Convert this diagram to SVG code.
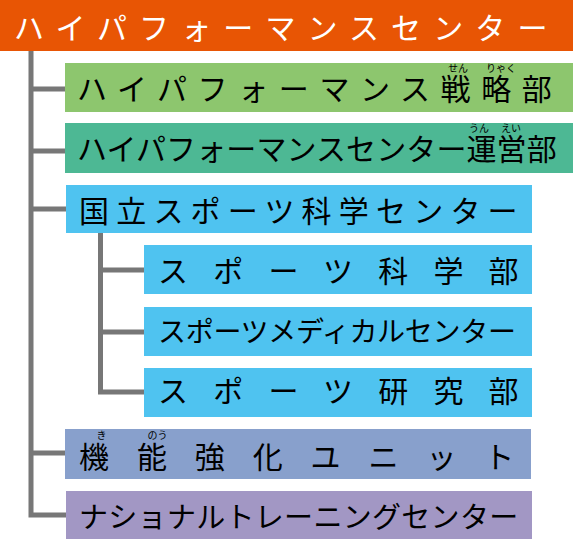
<svg xmlns="http://www.w3.org/2000/svg" width="575" height="546" viewBox="0 0 575 546">
  <style>
    text { font-family: "Noto Sans CJK JP", "Noto Sans", sans-serif; fill: #000; }
    .t30 { font-size: 30px; }
    .ruby { font-size: 10px; text-anchor: middle; }
    .title { fill: #fff; }
    .conn { fill: none; stroke: #777; stroke-width: 5; stroke-linejoin: miter; stroke-linecap: butt; }
  </style>
  <rect width="575" height="546" fill="#fff"/>

  <g id="connectors">
    <path class="conn" d="M31,51 V515 H66"/>
    <path class="conn" d="M31,89 H65"/>
    <path class="conn" d="M31,151 H65"/>
    <path class="conn" d="M31,209 H66"/>
    <path class="conn" d="M31,453 H65"/>
    <path class="conn" d="M100.5,233 V392 H144"/>
    <path class="conn" d="M100.5,270 H144"/>
    <path class="conn" d="M100.5,332 H144"/>
  </g>

  <g id="hpc">
    <rect x="0" y="0" width="573" height="51" fill="#E85504"/>
    <text class="t30 title" x="14" y="38.5" style="letter-spacing:12.1px">ハイパフォーマンスセンター</text>
  </g>

  <g id="strategy">
    <rect x="65" y="63" width="508" height="49" fill="#8DC66E"/>
    <text class="t30" x="77" y="99.5" style="letter-spacing:10.6px">ハイパフォーマンス戦略部</text>
    <text class="ruby" x="458" y="71.7">せん</text>
    <text class="ruby" x="501" y="71.7">りゃく</text>
  </g>

  <g id="operations">
    <rect x="65" y="123" width="508" height="50" fill="#4DB894"/>
    <text class="t30" x="77" y="160" style="letter-spacing:0.1px">ハイパフォーマンスセンター運営部</text>
    <text class="ruby" x="479" y="132.2">うん</text>
    <text class="ruby" x="511" y="132.2">えい</text>
  </g>

  <g id="jiss">
    <rect x="66" y="185" width="466" height="48" fill="#4FC3F0"/>
    <text class="t30" x="79" y="222" style="letter-spacing:7.2px">国立スポーツ科学センター</text>
  </g>

  <g id="sports-science">
    <rect x="144" y="245" width="388" height="49" fill="#4FC3F0"/>
    <text class="t30" x="158" y="281.5" style="letter-spacing:25.2px">スポーツ科学部</text>
  </g>

  <g id="sports-medical">
    <rect x="144" y="307" width="388" height="49" fill="#4FC3F0"/>
    <text x="158" y="342" style="font-size:28px;letter-spacing:-0.3px">スポーツメディカルセンター</text>
  </g>

  <g id="sports-research">
    <rect x="144" y="368" width="388" height="49" fill="#4FC3F0"/>
    <text class="t30" x="158" y="401.5" style="letter-spacing:25.2px">スポーツ研究部</text>
  </g>

  <g id="enhancement-unit">
    <rect x="65" y="429" width="466" height="50" fill="#88A0CC"/>
    <text class="t30" x="79" y="468" style="letter-spacing:27.9px">機能強化ユニット</text>
    <text class="ruby" x="101.5" y="438.5">き</text>
    <text class="ruby" x="157.5" y="438.5">のう</text>
  </g>

  <g id="ntc">
    <rect x="66" y="491" width="466" height="48" fill="#A297C4"/>
    <text x="79" y="527.5" style="font-size:29px;letter-spacing:0.3px">ナショナルトレーニングセンター</text>
  </g>
</svg>
